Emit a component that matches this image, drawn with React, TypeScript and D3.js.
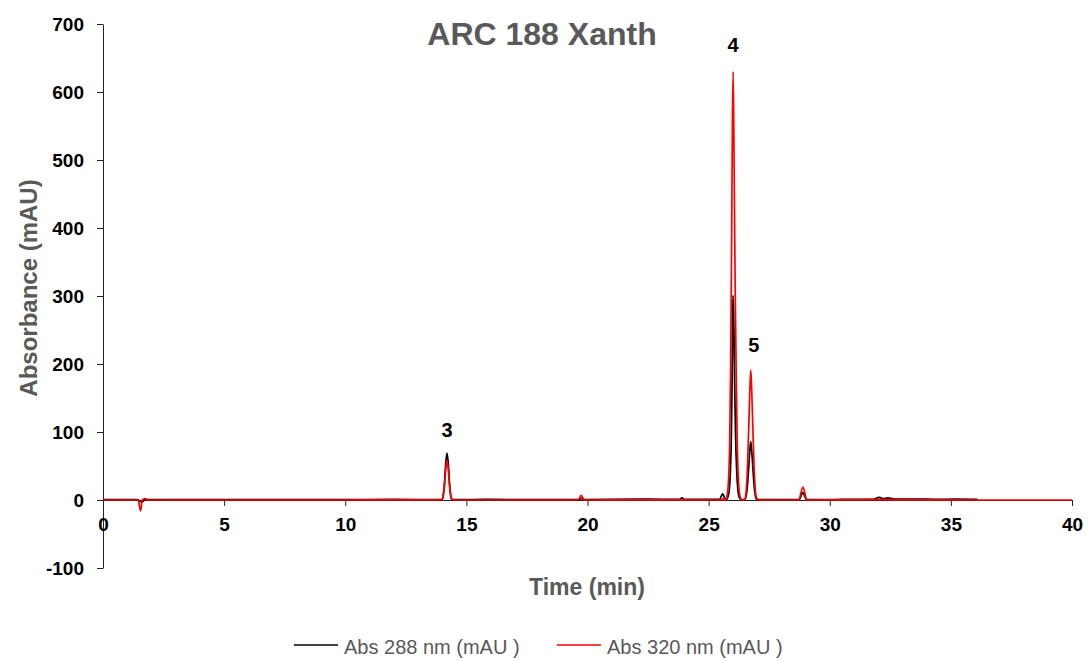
import React, { useEffect, useRef } from "react";
import * as d3 from "d3";

// chromatogram traces: [time (min), absorbance (mAU)]
const abs288: [number, number][] = [
  [0, 0.5], [1.4, 0.5], [1.6, -3], [1.75, 0.5], [5, 0.5], [8, 0.5], [10, 0.6], [12, 0.8],
  [13.88, 0.5], [14.0, 1], [14.05, 8], [14.1, 27], [14.15, 55], [14.2, 69], [14.25, 55],
  [14.3, 27], [14.35, 8], [14.4, 1], [14.55, 0.5], [16, 0.8], [18, 0.6], [19.65, 0.5],
  [19.75, 2.5], [19.85, 0.5], [21, 0.8], [22.5, 1.2], [23.8, 0.8], [23.9, 3], [24.0, 0.8],
  [25.45, 0.8], [25.58, 9], [25.7, 1], [25.76, 1], [25.8, 5], [25.85, 14], [25.9, 42],
  [25.94, 97], [25.97, 180], [25.99, 262], [26.01, 301], [26.04, 262], [26.07, 180],
  [26.11, 97], [26.16, 42], [26.21, 14], [26.26, 4], [26.32, 1], [26.4, 0.5], [26.5, 1],
  [26.55, 6], [26.6, 20], [26.65, 45], [26.7, 72], [26.74, 86], [26.78, 72], [26.83, 45],
  [26.88, 20], [26.93, 6], [26.98, 1], [27.2, 0.5], [28.74, 0.5], [28.89, 11], [29.04, 0.5],
  [30.5, 0.8], [31.8, 1], [32.05, 4], [32.2, 2], [32.4, 3], [32.7, 1.5], [33.5, 1.5],
  [34.5, 1], [35.2, 1.2], [36.1, 0.8]
];

const abs320: [number, number][] = [
  [0, 0], [1.45, 0], [1.55, -16], [1.62, 0], [1.75, 2], [1.85, 0], [5, 0], [10, 0], [12, 0.3],
  [13.9, 0], [14.0, 1], [14.05, 7], [14.1, 23], [14.15, 46], [14.2, 58], [14.25, 46],
  [14.3, 23], [14.35, 7], [14.4, 1], [14.55, 0], [19.62, 0], [19.74, 7], [19.86, 0],
  [22, 0.3], [25.5, 0], [25.6, 2], [25.7, 0], [25.73, 1], [25.77, 8], [25.82, 28],
  [25.87, 85], [25.91, 200], [25.95, 380], [25.98, 545], [26.01, 630], [26.04, 545],
  [26.07, 420], [26.1, 300], [26.14, 180], [26.18, 85], [26.23, 30], [26.28, 8],
  [26.34, 1], [26.42, 0], [26.5, 2], [26.55, 13], [26.6, 45], [26.65, 100], [26.7, 160],
  [26.74, 191], [26.78, 160], [26.83, 100], [26.88, 45], [26.93, 14], [26.98, 3], [27.05, 0],
  [28.72, 0], [28.89, 19], [29.06, 0], [32, 0.5], [36, 0], [40, 0]
];

const xTicks = [0, 5, 10, 15, 20, 25, 30, 35, 40];
const yTicks = [-100, 0, 100, 200, 300, 400, 500, 600, 700];

const peakLabels = [
  { label: "3", t: 14.2, v: 69 },
  { label: "4", t: 26.01, v: 630 },
  { label: "5", t: 26.74, v: 191 }
];

const seriesNames = ["Abs 288 nm (mAU )", "Abs 320 nm (mAU )"];
const seriesColors = ["#000000", "#ff0000"];

const W = 1088;
const H = 661;
const FONT = "'Liberation Sans', Arial, sans-serif";

const App = () => {
  const svgRef = useRef<SVGSVGElement>(null);

  useEffect(() => {
    const svg = d3.select(svgRef.current);
    svg.selectAll("*").remove();

    const x = d3.scaleLinear().domain([0, 40]).range([103, 1072]);
    const y = d3.scaleLinear().domain([-100, 700]).range([568, 24]);

    // title
    svg
      .append("text")
      .attr("x", 542)
      .attr("y", 45)
      .attr("text-anchor", "middle")
      .attr("font-family", FONT)
      .attr("font-weight", "bold")
      .attr("font-size", 32)
      .attr("fill", "#595959")
      .text("ARC 188 Xanth");

    // y axis
    const yAxis = d3
      .axisLeft(y)
      .tickValues(yTicks)
      .tickSize(6)
      .tickSizeOuter(0)
      .tickPadding(13)
      .tickFormat((d) => String(d));
    const gy = svg
      .append("g")
      .attr("transform", `translate(${x(0)},0)`)
      .call(yAxis);
    gy.select(".domain").attr("stroke", "#222");
    gy.selectAll(".tick line").attr("stroke", "#222");
    gy.selectAll("text")
      .attr("font-family", FONT)
      .attr("font-weight", "bold")
      .attr("font-size", 19)
      .attr("fill", "#000");

    // x axis sits on zero
    const xAxis = d3
      .axisBottom(x)
      .tickValues(xTicks)
      .tickSize(6)
      .tickSizeOuter(0)
      .tickPadding(12)
      .tickFormat((d) => String(d));
    const gx = svg
      .append("g")
      .attr("transform", `translate(0,${y(0)})`)
      .call(xAxis);
    gx.select(".domain").attr("stroke", "#222");
    gx.selectAll(".tick line").attr("stroke", "#222");
    gx.selectAll("text")
      .attr("font-family", FONT)
      .attr("font-weight", "bold")
      .attr("font-size", 19)
      .attr("fill", "#000");

    // axis titles
    svg
      .append("text")
      .attr("x", 587)
      .attr("y", 595)
      .attr("text-anchor", "middle")
      .attr("font-family", FONT)
      .attr("font-weight", "bold")
      .attr("font-size", 23)
      .attr("fill", "#595959")
      .text("Time (min)");

    svg
      .append("text")
      .attr("transform", "translate(37,288) rotate(-90)")
      .attr("text-anchor", "middle")
      .attr("font-family", FONT)
      .attr("font-weight", "bold")
      .attr("font-size", 24)
      .attr("fill", "#595959")
      .text("Absorbance (mAU)");

    // traces
    const line = d3
      .line<[number, number]>()
      .x((d) => x(d[0]))
      .y((d) => y(d[1]))
      .curve(d3.curveMonotoneX);

    [abs288, abs320].forEach((s, i) => {
      svg
        .append("path")
        .datum(s)
        .attr("d", line)
        .attr("fill", "none")
        .attr("stroke", seriesColors[i])
        .attr("stroke-width", 1.7)
        .attr("stroke-linejoin", "round");
    });

    // peak numbers
    const peakY = [437, 52, 352];
    peakLabels.forEach((p, i) => {
      svg
        .append("text")
        .attr("x", x(p.t) + (i === 2 ? 3 : 0))
        .attr("y", peakY[i])
        .attr("text-anchor", "middle")
        .attr("font-family", FONT)
        .attr("font-weight", "bold")
        .attr("font-size", 20)
        .attr("fill", "#000")
        .text(p.label);
    });

    // legend
    const legX = [294, 557];
    seriesNames.forEach((name, i) => {
      svg
        .append("line")
        .attr("x1", legX[i])
        .attr("x2", legX[i] + 44)
        .attr("y1", 645)
        .attr("y2", 645)
        .attr("stroke", seriesColors[i])
        .attr("stroke-width", 1.6);
      svg
        .append("text")
        .attr("x", legX[i] + 50)
        .attr("y", 654)
        .attr("font-family", FONT)
        .attr("font-size", 20)
        .attr("fill", "#595959")
        .text(name);
    });
  }, []);

  return (
    <div style={{ position: "absolute", left: 0, top: 0, background: "#fff" }}>
      <svg ref={svgRef} width={W} height={H}></svg>
    </div>
  );
};

export default App;
